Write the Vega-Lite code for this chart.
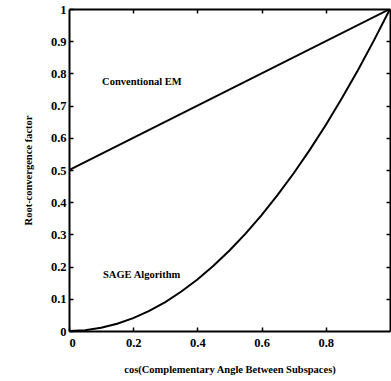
{
  "$schema": "https://vega.github.io/schema/vega-lite/v6.json",
  "autosize": "none",
  "width": 321,
  "height": 322,
  "padding": {"left": 69, "top": 9, "right": 1, "bottom": 50},
  "background": "white",
  "config": {
    "view": {"stroke": null},
    "axis": {
      "domainColor": "black", "domainWidth": 2, "tickColor": "black", "tickWidth": 1.5,
      "grid": false, "labelFont": "Liberation Serif", "labelFontWeight": "bold", "labelFontSize": 12.5,
      "labelColor": "black", "titleFont": "Liberation Serif", "titleFontWeight": "bold",
      "titleFontSize": 10.5, "titleColor": "black"
    }
  },
  "datasets": {
    "curves": [
      {"x": 0, "y": 0.5, "s": "Conventional EM"},
      {"x": 1, "y": 1, "s": "Conventional EM"},
      {"x": 0, "y": 0, "s": "SAGE"},
      {"x": 0.05, "y": 0.0025, "s": "SAGE"},
      {"x": 0.1, "y": 0.01, "s": "SAGE"},
      {"x": 0.15, "y": 0.0225, "s": "SAGE"},
      {"x": 0.2, "y": 0.04, "s": "SAGE"},
      {"x": 0.25, "y": 0.0625, "s": "SAGE"},
      {"x": 0.3, "y": 0.09, "s": "SAGE"},
      {"x": 0.35, "y": 0.1225, "s": "SAGE"},
      {"x": 0.4, "y": 0.16, "s": "SAGE"},
      {"x": 0.45, "y": 0.2025, "s": "SAGE"},
      {"x": 0.5, "y": 0.25, "s": "SAGE"},
      {"x": 0.55, "y": 0.3025, "s": "SAGE"},
      {"x": 0.6, "y": 0.36, "s": "SAGE"},
      {"x": 0.65, "y": 0.4225, "s": "SAGE"},
      {"x": 0.7, "y": 0.49, "s": "SAGE"},
      {"x": 0.75, "y": 0.5625, "s": "SAGE"},
      {"x": 0.8, "y": 0.64, "s": "SAGE"},
      {"x": 0.85, "y": 0.7225, "s": "SAGE"},
      {"x": 0.9, "y": 0.81, "s": "SAGE"},
      {"x": 0.95, "y": 0.9025, "s": "SAGE"},
      {"x": 1, "y": 1, "s": "SAGE"}
    ],
    "labels": [
      {"x": 0.103, "y": 0.772, "t": "Conventional EM"},
      {"x": 0.106, "y": 0.174, "t": "SAGE Algorithm"}
    ]
  },
  "layer": [
    {
      "data": {"name": "curves"},
      "mark": {"type": "line", "color": "black", "strokeWidth": 2, "clip": true},
      "encoding": {
        "x": {"field": "x", "type": "quantitative", "scale": {"domain": [0, 1], "nice": false},
          "axis": {"orient": "bottom", "values": [0, 0.2, 0.4, 0.6, 0.8], "tickSize": -4, "labelPadding": 9,
            "labelExpr": "datum.value == 0 ? '0' : format(datum.value, '.1f')",
            "title": "cos(Complementary Angle Between Subspaces)", "titlePadding": 16}},
        "y": {"field": "y", "type": "quantitative", "scale": {"domain": [0, 1], "nice": false},
          "axis": {"orient": "left", "values": [0, 0.1, 0.2, 0.3, 0.4, 0.5, 0.6, 0.7, 0.8, 0.9, 1], "tickSize": -4,
            "labelPadding": 7, "labelExpr": "datum.value == 0 ? '0' : datum.value == 1 ? '1' : format(datum.value, '.1f')",
            "title": "Root-convergence factor", "titlePadding": 17}},
        "detail": {"field": "s"}
      }
    },
    {
      "data": {"name": "labels"},
      "mark": {"type": "text", "align": "left", "baseline": "middle", "font": "Liberation Serif", "fontWeight": "bold", "fontSize": 10.5, "color": "black"},
      "encoding": {
        "x": {"field": "x", "type": "quantitative",
          "axis": {"orient": "top", "values": [0.2, 0.4, 0.6, 0.8], "tickSize": -4, "labels": false, "title": null}},
        "y": {"field": "y", "type": "quantitative",
          "axis": {"orient": "right", "values": [0.1, 0.2, 0.3, 0.4, 0.5, 0.6, 0.7, 0.8, 0.9], "tickSize": -4, "labels": false, "title": null}},
        "text": {"field": "t"}
      }
    }
  ],
  "resolve": {"axis": {"x": "independent", "y": "independent"}}
}
